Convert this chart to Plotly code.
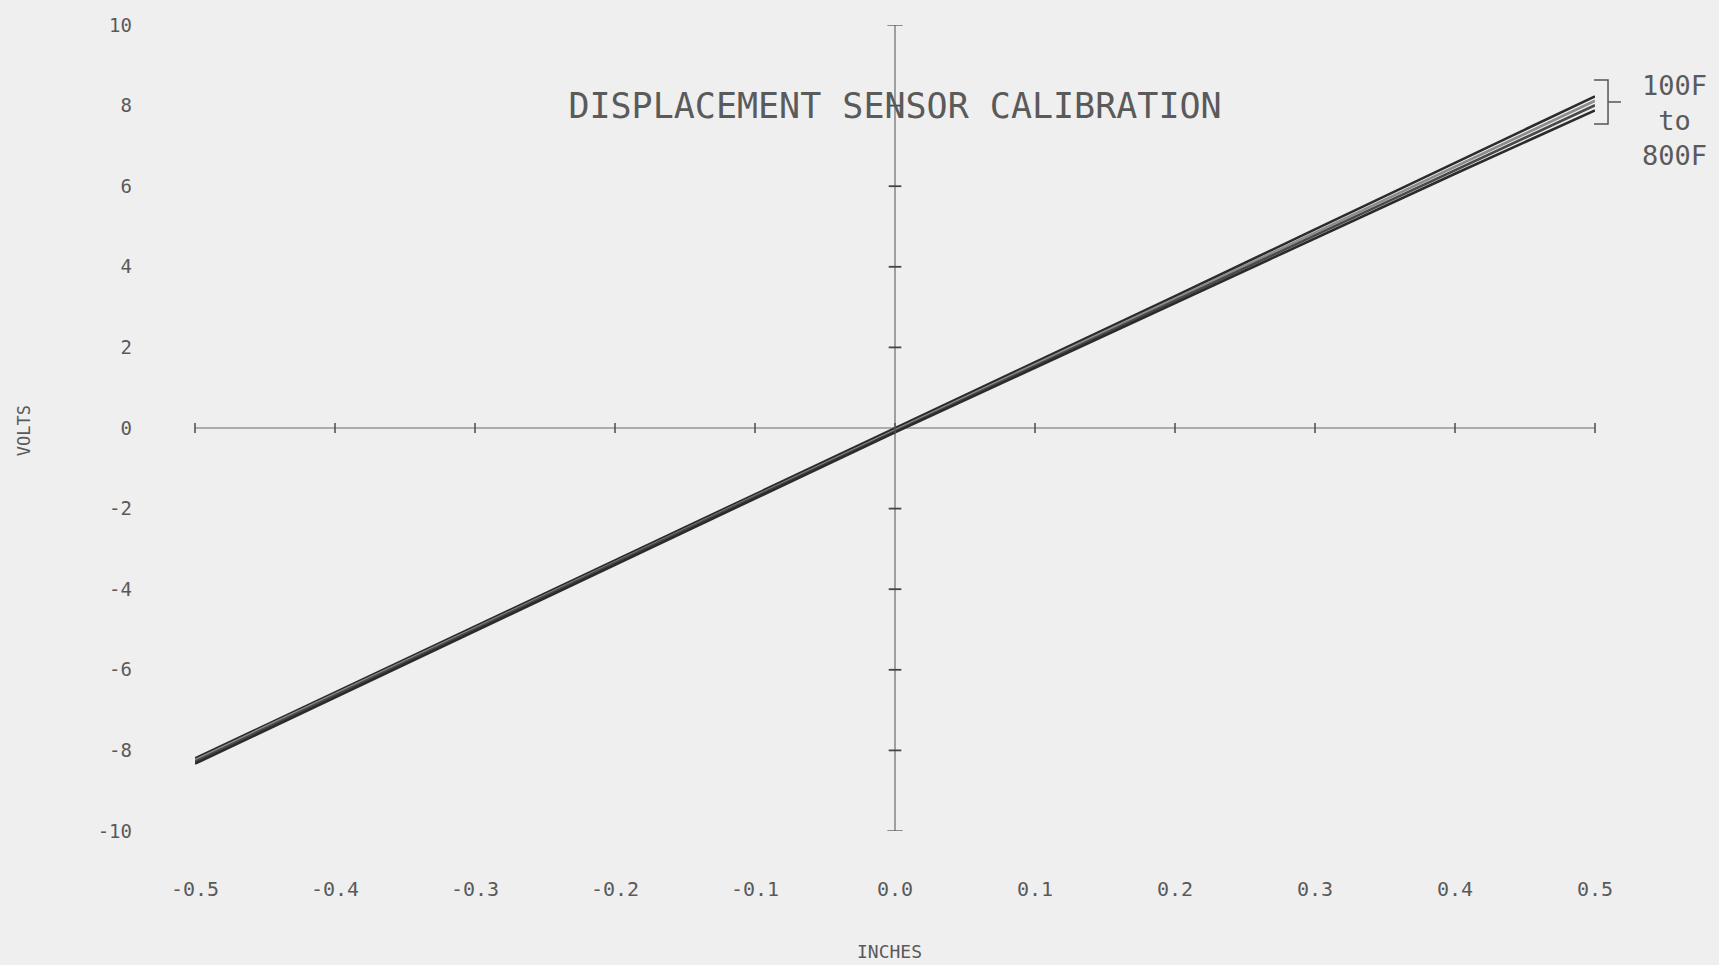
import plotly.graph_objects as go

# ---- data ----
inches = [-0.5, -0.4, -0.3, -0.2, -0.1, 0.0, 0.1, 0.2, 0.3, 0.4, 0.5]
volts_100F = [-8.20, -6.56, -4.92, -3.28, -1.64, -0.02, 1.62, 3.27, 4.93, 6.58, 8.23]
volts_300F = [-8.24, -6.60, -4.96, -3.32, -1.68, -0.05, 1.58, 3.21, 4.85, 6.49, 8.12]
volts_500F = [-8.28, -6.63, -4.99, -3.35, -1.71, -0.08, 1.54, 3.16, 4.78, 6.40, 8.01]
volts_800F = [-8.33, -6.68, -5.03, -3.39, -1.75, -0.11, 1.50, 3.11, 4.71, 6.31, 7.88]

x_ticks = [-0.5, -0.4, -0.3, -0.2, -0.1, 0.0, 0.1, 0.2, 0.3, 0.4, 0.5]
x_tick_labels = ["-0.5", "-0.4", "-0.3", "-0.2", "-0.1", "0.0", "0.1", "0.2", "0.3", "0.4", "0.5"]
y_ticks = [-10, -8, -6, -4, -2, 0, 2, 4, 6, 8, 10]
y_tick_labels = ["-10", "-8", "-6", "-4", "-2", "0", "2", "4", "6", "8", "10"]
range_label = ["100F", "to", "800F"]

FONT = "DejaVu Sans Mono"
TXT = "#5a5a5a"
BG = "#efefef"
AX = "#6a6a6a"

fig = go.Figure()

series = [
    ("100F", volts_100F, "#2b2b2b"),
    ("300F", volts_300F, "#8c8c8c"),
    ("500F", volts_500F, "#4a4a4a"),
    ("800F", volts_800F, "#2b2b2b"),
]
for name, ys, col in series:
    fig.add_trace(go.Scatter(x=inches, y=ys, mode="lines", name=name,
                             line=dict(color=col, width=2.6),
                             cliponaxis=False, showlegend=False,
                             hoverinfo="skip"))

# axis cross tick marks
fig.add_trace(go.Scatter(x=x_ticks, y=[0] * len(x_ticks), mode="markers",
                         marker=dict(symbol="line-ns", size=7,
                                     line=dict(color="#555", width=1.6)),
                         cliponaxis=False, showlegend=False, hoverinfo="skip"))
y_minor = [v for v in y_ticks if abs(v) != 10 and v != 0]
fig.add_trace(go.Scatter(x=[0] * len(y_minor), y=y_minor, mode="markers",
                         marker=dict(symbol="line-ew", size=9,
                                     line=dict(color="#444", width=1.8)),
                         cliponaxis=False, showlegend=False, hoverinfo="skip"))

shapes = [
    dict(type="line", xref="x", yref="y", x0=-0.5, x1=0.5, y0=0, y1=0,
         line=dict(color=AX, width=1.2), layer="below"),
    dict(type="line", xref="x", yref="y", x0=0, x1=0, y0=-10, y1=10,
         line=dict(color=AX, width=1.2), layer="below"),
    dict(type="line", xref="x", yref="y", x0=-0.0055, x1=0.0055, y0=10, y1=10,
         line=dict(color=AX, width=1.5)),
    dict(type="line", xref="x", yref="y", x0=-0.0055, x1=0.0055, y0=-10, y1=-10,
         line=dict(color=AX, width=1.5)),
    # bracket
    dict(type="path", xref="paper", yref="paper",
         path="M 0.9993 0.9318 L 1.0093 0.9318 L 1.0093 0.8772 L 0.9993 0.8772",
         line=dict(color="#555", width=1.5)),
    dict(type="line", xref="paper", yref="paper", x0=1.0093, x1=1.0186,
         y0=0.9045, y1=0.9045, line=dict(color="#555", width=1.5)),
]

annotations = [
    dict(text="VOLTS", xref="paper", yref="paper", x=-0.1221, y=0.496,
         xanchor="center", yanchor="middle",
         textangle=-90, showarrow=False, font=dict(family=FONT, size=17, color=TXT)),
    dict(text="INCHES", xref="paper", yref="paper", x=0.4964, y=-0.1489,
         xanchor="center", yanchor="middle",
         showarrow=False, font=dict(family=FONT, size=18, color=TXT)),
    dict(text="<br>".join(range_label), xref="paper", yref="paper",
         x=1.0571, y=0.882, xanchor="center", yanchor="middle", align="center",
         showarrow=False, font=dict(family=FONT, size=27, color=TXT)),
]

fig.update_layout(
    width=1719, height=965,
    margin=dict(l=195, r=124, t=25, b=134),
    paper_bgcolor=BG, plot_bgcolor=BG,
    title=dict(text="DISPLACEMENT SENSOR CALIBRATION", xref="paper", yref="paper",
               x=0.5, xanchor="center", y=0.9, yanchor="middle",
               font=dict(family=FONT, size=35, color=TXT)),
    xaxis=dict(range=[-0.5, 0.5], tickvals=x_ticks, ticktext=x_tick_labels,
               showgrid=False, zeroline=False, showline=False, ticks="",
               ticklabelstandoff=44, tickfont=dict(family=FONT, size=20, color=TXT),
               fixedrange=True),
    yaxis=dict(range=[-10, 10], tickvals=y_ticks, ticktext=y_tick_labels,
               showgrid=False, zeroline=False, showline=False, ticks="",
               ticklabelstandoff=62, tickfont=dict(family=FONT, size=19, color=TXT),
               fixedrange=True),
    shapes=shapes,
    annotations=annotations,
    showlegend=False,
)

fig.write_html("out.html", config={"displayModeBar": False})

# remove the browser's default page margin so the figure fills the window
with open("out.html", "r", encoding="utf-8") as f:
    html = f.read()
html = html.replace("<body>", '<body style="margin:0;padding:0;overflow:hidden;background:#efefef">', 1)
with open("out.html", "w", encoding="utf-8") as f:
    f.write(html)
